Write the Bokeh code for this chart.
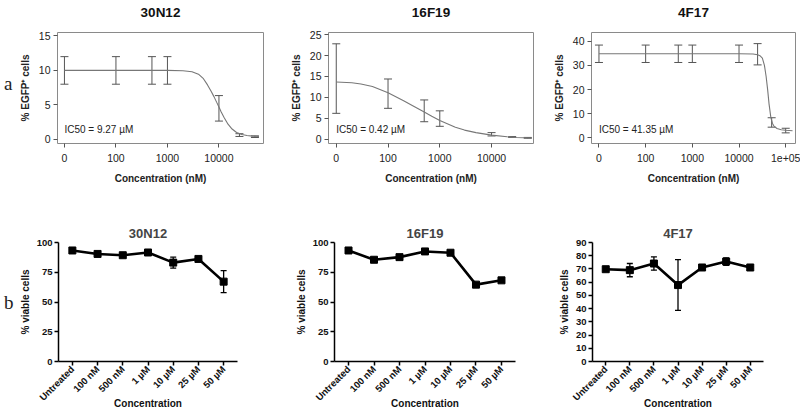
import numpy as np
from bokeh.plotting import figure
from bokeh.models import Range1d, FixedTicker, Whisker, TeeHead, ColumnDataSource, Label, Div, Title
from bokeh.layouts import row, column
from bokeh.embed import file_html
from bokeh.resources import INLINE

# ---------------- panel a : % EGFP+ cells vs concentration (nM) ----------------
ZERO_AT = 10  # the "0" dose is drawn at the 10 nM position of the log axis

conc_30N12 = [0, 100, 500, 1000, 10000, 25000, 50000]
egfp_30N12 = [10.0, 10.0, 10.0, 10.0, 4.5, 0.62, 0.39]
sd_30N12 = [2.0, 2.0, 2.0, 2.0, 1.85, 0.2, 0.12]
fit_conc_30N12 = [0, 1000, 2000, 3000, 4000, 5000, 6000, 7000, 8000, 9000, 10000,
                  11000, 12500, 15000, 18000, 22000, 28000, 35000, 45000, 60000]
fit_egfp_30N12 = [10.0, 10.0, 9.95, 9.8, 9.45, 8.8, 7.9, 7.0, 6.2, 5.4, 4.7,
                  4.0, 3.2, 2.2, 1.5, 1.0, 0.7, 0.55, 0.47, 0.42]

conc_16F19 = [0, 100, 500, 1000, 10000, 25000, 50000]
egfp_16F19 = [14.5, 10.9, 6.8, 4.95, 1.2, 0.55, 0.35]
sd_16F19 = [8.3, 3.5, 2.6, 1.85, 0.4, 0.1, 0.1]
fit_conc_16F19 = [0, 20, 30, 50, 100, 200, 300, 500, 700, 1000, 2000, 3000,
                  5000, 10000, 20000, 30000, 60000]
fit_egfp_16F19 = [13.7, 13.5, 13.2, 12.6, 11.1, 9.2, 8.0, 6.5, 5.5, 4.5, 2.9, 2.2,
                  1.6, 1.0, 0.6, 0.45, 0.3]

conc_4F17 = [0, 100, 500, 1000, 10000, 25000, 50000, 100000]
egfp_4F17 = [34.8, 34.8, 34.8, 34.8, 34.8, 34.6, 6.4, 3.05]
sd_4F17 = [3.6, 3.6, 3.6, 3.6, 3.6, 4.4, 1.95, 0.95]
fit_conc_4F17 = [0, 1000, 10000, 20000, 25000, 28000, 31600, 35000, 38000, 41000,
                 44000, 48000, 52000, 56000, 65000, 80000, 100000, 140000]
fit_egfp_4F17 = [34.8, 34.8, 34.8, 34.7, 34.4, 34.0, 33.0, 30.0, 25.5, 20.0,
                 14.0, 8.5, 6.0, 4.9, 3.9, 3.4, 3.2, 3.0]

ic50_labels = ["IC50 = 9.27 µM", "IC50 = 0.42 µM", "IC50 = 41.35 µM"]
dose_ticks = [10, 100, 1000, 10000, 100000]
dose_tick_labels = ["0", "100", "1000", "10000", "1e+05"]

# ---------------- panel b : % viable cells ----------------
cats = ["Untreated", "100 nM", "500 nM", "1 µM", "10 µM", "25 µM", "50 µM"]
via_30N12 = [93.3, 90.4, 89.3, 91.6, 83.1, 86.2, 67.1]
via_sd_30N12 = [1.0, 1.0, 1.0, 1.0, 4.6, 0.8, 9.3]
via_16F19 = [93.3, 85.5, 87.7, 92.5, 91.4, 64.6, 68.2]
via_sd_16F19 = [0.8, 0.8, 1.2, 0.8, 0.8, 0.8, 0.8]
via_4F17 = [69.8, 69.1, 74.1, 57.8, 71.1, 75.6, 71.1]
via_sd_4F17 = [0.8, 5.0, 5.0, 19.2, 0.8, 2.8, 0.8]

FONT = "Liberation Sans"
H1, H2 = 196, 218
TOP1, FRAME1 = 32, 111
TOP2, FRAME2 = 46, 119


def dose_panel(name, conc, mean, sd, fc, fy, ic50, xr, yr, yticks, nticks, width, bl, br, label_y):
    p = figure(width=width, height=H1, x_axis_type="log",
               x_range=Range1d(*xr), y_range=Range1d(*yr),
               output_backend="svg", toolbar_location=None,
               min_border_left=bl, min_border_right=br,
               min_border_top=TOP1, min_border_bottom=H1 - TOP1 - FRAME1)
    x = [c if c > 0 else ZERO_AT for c in conc]
    fx = [c if c > 0 else ZERO_AT for c in fc]
    p.line(fx, fy, line_color="#777777", line_width=1.1)
    src = ColumnDataSource(dict(x=x, lo=[m - s for m, s in zip(mean, sd)],
                                hi=[m + s for m, s in zip(mean, sd)]))
    p.add_layout(Whisker(source=src, base="x", lower="lo", upper="hi",
                         line_color="#555555", line_width=1,
                         upper_head=TeeHead(size=8, line_color="#555555", line_width=1),
                         lower_head=TeeHead(size=8, line_color="#555555", line_width=1)))
    p.add_layout(Label(x=ZERO_AT, y=label_y, text=ic50, text_font=FONT,
                       text_font_size="10px", text_baseline="middle", text_color="#222222"))
    # empty spacer between the plot box and the panel title
    p.add_layout(Title(text=" ", text_font_size="1px", standoff=10), "above")
    p.title.text = name
    p.title.align = "center"
    p.title.text_font = FONT
    p.title.text_font_size = "13.5px"
    p.title.text_font_style = "bold"
    p.title.text_color = "#111111"
    p.title.standoff = 0
    p.xgrid.visible = False
    p.ygrid.visible = False
    p.outline_line_color = "#8a8a8a"
    p.outline_line_width = 1
    ticks = dose_ticks[:nticks]
    p.xaxis.ticker = FixedTicker(ticks=ticks)
    p.xaxis.major_label_overrides = {t: l for t, l in zip(ticks, dose_tick_labels)}
    p.yaxis.ticker = FixedTicker(ticks=yticks)
    for ax in (p.xaxis, p.yaxis):
        ax.axis_line_color = None
        ax.major_tick_out = 4
        ax.major_tick_in = 0
        ax.major_tick_line_color = "#555555"
        ax.minor_tick_line_color = None
        ax.major_label_text_font = FONT
        ax.major_label_text_font_size = "10.5px"
        ax.major_label_text_color = "#222222"
        ax.major_label_standoff = 3
        ax.axis_label_text_font = FONT
        ax.axis_label_text_font_size = "10px"
        ax.axis_label_text_font_style = "bold"
        ax.axis_label_text_color = "#222222"
        ax.axis_label_standoff = 5
    p.xaxis.major_label_standoff = 6
    p.xaxis.axis_label_standoff = 8
    p.xaxis.axis_label = "Concentration (nM)"
    p.yaxis.axis_label = "% EGFP⁺ cells"
    return p


def viab_panel(name, vals, sd, ymax, yticks, width, bl, br):
    p = figure(width=width, height=H2, x_range=Range1d(-0.55, 6.55), y_range=Range1d(0, ymax),
               output_backend="svg", toolbar_location=None,
               min_border_left=bl, min_border_right=br,
               min_border_top=TOP2, min_border_bottom=H2 - TOP2 - FRAME2)
    idx = list(range(len(cats)))
    src = ColumnDataSource(dict(x=idx, y=vals, lo=[v - s for v, s in zip(vals, sd)],
                                hi=[v + s for v, s in zip(vals, sd)]))
    p.add_layout(Whisker(source=src, base="x", lower="lo", upper="hi",
                         line_color="black", line_width=1.3,
                         upper_head=TeeHead(size=6, line_color="black", line_width=1.3),
                         lower_head=TeeHead(size=6, line_color="black", line_width=1.3)))
    p.line("x", "y", source=src, line_color="black", line_width=2.6)
    p.scatter("x", "y", source=src, marker="square", size=7, color="black")
    p.title.text = name
    p.title.align = "center"
    p.title.text_font = FONT
    p.title.text_font_size = "13px"
    p.title.text_font_style = "bold"
    p.title.standoff = 3
    p.xgrid.visible = False
    p.ygrid.visible = False
    p.outline_line_color = None
    p.xaxis.ticker = FixedTicker(ticks=idx)
    p.xaxis.major_label_overrides = {i: c for i, c in zip(idx, cats)}
    p.xaxis.major_label_orientation = np.pi / 4
    p.yaxis.ticker = FixedTicker(ticks=yticks)
    for ax in (p.xaxis, p.yaxis):
        ax.axis_line_color = "black"
        ax.axis_line_width = 1.5
        ax.major_tick_out = 4
        ax.major_tick_in = 0
        ax.major_tick_line_color = "black"
        ax.major_tick_line_width = 1.5
        ax.minor_tick_line_color = None
        ax.major_label_text_font = FONT
        ax.major_label_text_font_size = "9.5px"
        ax.major_label_text_font_style = "bold"
        ax.major_label_text_color = "#111111"
        ax.major_label_standoff = 2
        ax.axis_label_text_font = FONT
        ax.axis_label_text_font_size = "10px"
        ax.axis_label_text_font_style = "bold"
        ax.axis_label_text_color = "#111111"
        ax.axis_label_standoff = 3
    p.xaxis.axis_label_standoff = -12
    p.xaxis.axis_label = "Concentration"
    p.yaxis.axis_label = "% viable cells"
    return p


p1 = dose_panel("30N12", conc_30N12, egfp_30N12, sd_30N12, fit_conc_30N12, fit_egfp_30N12,
                ic50_labels[0], (7.33, 73300), (-0.6, 15.5), [0, 5, 10, 15], 4, 250, 41, 3, 1.45)
p2 = dose_panel("16F19", conc_16F19, egfp_16F19, sd_16F19, fit_conc_16F19, fit_egfp_16F19,
                ic50_labels[1], (7.08, 64600), (-1.0, 25.5), [0, 5, 10, 15, 20, 25], 4, 271, 62, 4, 2.4)
p3 = dose_panel("4F17", conc_4F17, egfp_4F17, sd_4F17, fit_conc_4F17, fit_egfp_4F17,
                ic50_labels[2], (6.92, 162000), (-2.3, 43.6), [0, 10, 20, 30, 40], 5, 263, 54, 5, 3.4)

p4 = viab_panel("30N12", via_30N12, via_sd_30N12, 100, [0, 25, 50, 75, 100], 250, 41, 29)
p5 = viab_panel("16F19", via_16F19, via_sd_16F19, 100, [0, 25, 50, 75, 100], 271, 68, 22)
p6 = viab_panel("4F17", via_4F17, via_sd_4F17, 90, list(range(0, 91, 10)), 263, 55, 37)

lab_a = Div(text="<div style=\"padding-top:70px;padding-left:4px;font-family:'Liberation Serif',serif;font-size:19px;color:#222\">a</div>",
            width=16, height=H1, margin=0)
lab_b = Div(text="<div style=\"padding-top:93px;padding-left:4px;font-family:'Liberation Serif',serif;font-size:19px;color:#222\">b</div>",
            width=16, height=H2, margin=0)

layout = column(row(lab_a, p1, p2, p3, spacing=0), row(lab_b, p4, p5, p6, spacing=0), spacing=0)

open("out.html", "w").write(file_html(layout, INLINE))
